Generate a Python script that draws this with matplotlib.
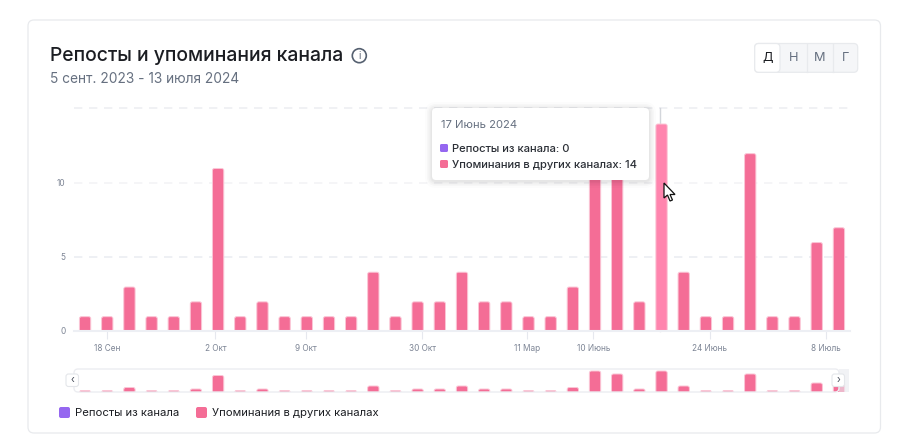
import matplotlib
matplotlib.use('Agg')
import matplotlib.pyplot as plt
from matplotlib.patches import FancyBboxPatch, Rectangle, Circle, Polygon

plt.rcParams['font.family'] = ['Inter', 'Noto Sans', 'DejaVu Sans']

PINK = '#F46D96'
PINK_EDGE = '#FBC6D6'
PINK_HOVER = '#FF85AE'
PURPLE = '#9567F0'
INK = '#1B1D22'
GRAY = '#667080'
TICK = '#7D8595'
GRID = '#EDEFF4'

mentions = [1, 1, 3, 1, 1, 2, 11, 1, 2, 1, 1, 1, 1, 4, 1, 2, 2, 4, 2, 2, 1, 1, 3,
            14, 12, 2, 14, 4, 1, 1, 12, 1, 1, 6, 7]
hover_index = 26
tick_pos = [1.0, 5.88, 9.98, 15.2, 19.94, 22.92, 28.18, 33.41]
tick_labels = ['18 Сен', '2 Окт', '9 Окт', '30 Окт', '11 Мар', '10 Июнь', '24 Июнь', '8 Июль']
y_ticks = [0, 5, 10, 15]
y_labels = ['0', '5', '10', '']
buttons = ['Д', 'Н', 'М', 'Г']
W, H = 898, 447


def px_axes(fig, left, top, right, bottom, z):
    a = fig.add_axes([left / W, 1 - bottom / H, (right - left) / W, (bottom - top) / H], zorder=z)
    a.patch.set_alpha(0)
    return a


def rbox(ax, x0, y0, x1, y1, r, **kw):
    p = FancyBboxPatch((x0, y0), x1 - x0, y1 - y0,
                       boxstyle=f'round,pad=0,rounding_size={r}', **kw)
    ax.add_patch(p)
    return p


def draw_bars(ax, values, unit_px, top_gap=0.0, hover=None):
    # rounded bars, started under the baseline so only the top corners show
    r = 2 / 22.17
    for i, v in enumerate(values):
        col = PINK_HOVER if i == hover else PINK
        p = FancyBboxPatch((i - 0.255, -3 / unit_px), 0.51, v + (3 - top_gap) / unit_px,
                           boxstyle=f'round,pad=0,rounding_size={r}',
                           mutation_aspect=(2 / unit_px) / r,
                           facecolor=col, edgecolor=PINK_EDGE, linewidth=0.7, zorder=3)
        ax.add_patch(p)
        p.set_clip_path(ax.patch)


fig = plt.figure(figsize=(W / 100, H / 100), dpi=100, facecolor='white')

# card, header, legend
bg = fig.add_axes([0, 0, 1, 1], zorder=0)
bg.set_xlim(0, W)
bg.set_ylim(H, 0)
bg.axis('off')
rbox(bg, 28, 20, 880.5, 433, 6, facecolor='white', edgecolor='#E8EAED', linewidth=0.9)
bg.text(50, 56, 'Репосты и упоминания канала', fontsize=13.95, fontweight='medium',
        color=INK, va='center', ha='left')
bg.add_patch(Circle((359.3, 55.7), 7, facecolor='none', edgecolor='#556070', linewidth=1.2))
bg.text(359.3, 55.9, 'i', fontsize=7, color='#556070', ha='center', va='center')
bg.text(50, 79, '5 сент. 2023 - 13 июля 2024', fontsize=9.9, color=GRAY, va='center', ha='left')

rbox(bg, 754.7, 43.5, 857.7, 72.3, 4, facecolor='#F5F6F8', edgecolor='#E8EAED', linewidth=0.9)
rbox(bg, 754.7, 43.5, 780, 72.3, 4, facecolor='white', edgecolor='#E8EAED', linewidth=0.9)
for xd in [806.6, 833]:
    bg.plot([xd, xd], [44, 72], color='#E8EAED', linewidth=0.9)
for xc, lab, col in zip([767.5, 793.5, 820, 845.5], buttons, [INK, GRAY, GRAY, GRAY]):
    bg.text(xc, 58, lab, fontsize=9.2, color=col, ha='center', va='center')

rbox(bg, 59, 407, 70, 418, 2, facecolor=PURPLE, edgecolor='none')
bg.text(75, 413.5, 'Репосты из канала', fontsize=8.1, color=INK, va='center', ha='left')
rbox(bg, 196, 407, 207, 418, 2, facecolor=PINK, edgecolor='none')
bg.text(212, 413.5, 'Упоминания в других каналах', fontsize=8.1, color=INK, va='center', ha='left')

# main chart
ax = px_axes(fig, 74, 108.4, 850, 330.7, 1)
ax.set_xlim(-0.5, 34.5)
ax.set_ylim(0, 15)
for s in ax.spines.values():
    s.set_visible(False)
ax.spines['bottom'].set_visible(True)
ax.spines['bottom'].set_color(GRID)
ax.spines['bottom'].set_linewidth(1.5)
ax.spines['bottom'].set_zorder(4)
for yv, col in zip(y_ticks[1:], ['#EBEDF2', '#F3F4F6', '#EEEFF2']):
    ax.axhline(yv, color=col, linewidth=1.2, dashes=(5, 4), zorder=1, clip_on=False)
ax.axvline(hover_index - 0.06, color='#D3D6DB', linewidth=1, zorder=2, clip_on=False)
draw_bars(ax, mentions, 14.82, top_gap=0.8, hover=hover_index)
ax.set_xticks(tick_pos)
ax.set_xticklabels(tick_labels, fontsize=5.9, color=TICK)
ax.set_yticks(y_ticks)
ax.set_yticklabels(y_labels, fontsize=5.9, color=TICK)
ax.tick_params(axis='x', length=8 * 0.72, width=0.8, color='#E6E8EE', pad=3.8)
ax.tick_params(axis='y', length=0, pad=6)

# brush preview
mini = px_axes(fig, 74, 369, 850, 392, 1)
mini.set_xlim(-0.5, 34.5)
mini.set_ylim(0, 15.33)
for s in mini.spines.values():
    s.set_visible(False)
mini.set_xticks([])
mini.set_yticks([])
draw_bars(mini, mentions, 1.5)

# tooltip, cursor and brush handles above everything
top = fig.add_axes([0, 0, 1, 1], zorder=5)
top.set_xlim(0, W)
top.set_ylim(H, 0)
top.axis('off')
top.patch.set_alpha(0)
rbox(top, 74, 369, 839, 392, 4, facecolor='none', edgecolor='#ECEDF1', linewidth=1.0)
top.add_patch(Rectangle((839, 369), 10, 23, facecolor='#E9EAEF', alpha=0.6, edgecolor='none'))
for x0, mark in [(66, '‹'), (832, '›')]:
    rbox(top, x0, 374, x0 + 12.5, 386.5, 2.5, facecolor='white', edgecolor='#E4E6EA', linewidth=0.8)
    top.text(x0 + 6.2, 379.6, mark, fontsize=7, color='#444B57', ha='center', va='center')

for grow, a in [(7, 0.012), (5, 0.018), (3.5, 0.022), (2, 0.022), (1, 0.02)]:
    rbox(top, 432 - grow, 108 - grow + 1, 649 + grow, 180 + grow + 1, 4 + grow,
         facecolor='black', edgecolor='none', alpha=a)
rbox(top, 432, 108, 649, 180, 4, facecolor='white', edgecolor='none')
top.text(441, 124.5, '17 Июнь 2024', fontsize=8.1, color=GRAY, va='center', ha='left')
rbox(top, 440, 144, 448, 152, 1.5, facecolor=PURPLE, edgecolor='none')
top.text(452, 148.5, 'Репосты из канала: 0', fontsize=8.05, fontweight='medium', color='#2B2F36', va='center', ha='left')
rbox(top, 440, 160, 448, 168, 1.5, facecolor=PINK, edgecolor='none')
top.text(452, 164.5, 'Упоминания в других каналах: 14', fontsize=8.05, fontweight='medium', color='#2B2F36', va='center', ha='left')

top.add_patch(Polygon([(664, 183), (664, 198), (667.5, 195), (670, 201), (672.5, 200),
                       (670, 194.5), (675, 194.5)],
                      closed=True, facecolor='white', edgecolor='#111111', linewidth=0.9))

fig.savefig('out.png', dpi=100)
